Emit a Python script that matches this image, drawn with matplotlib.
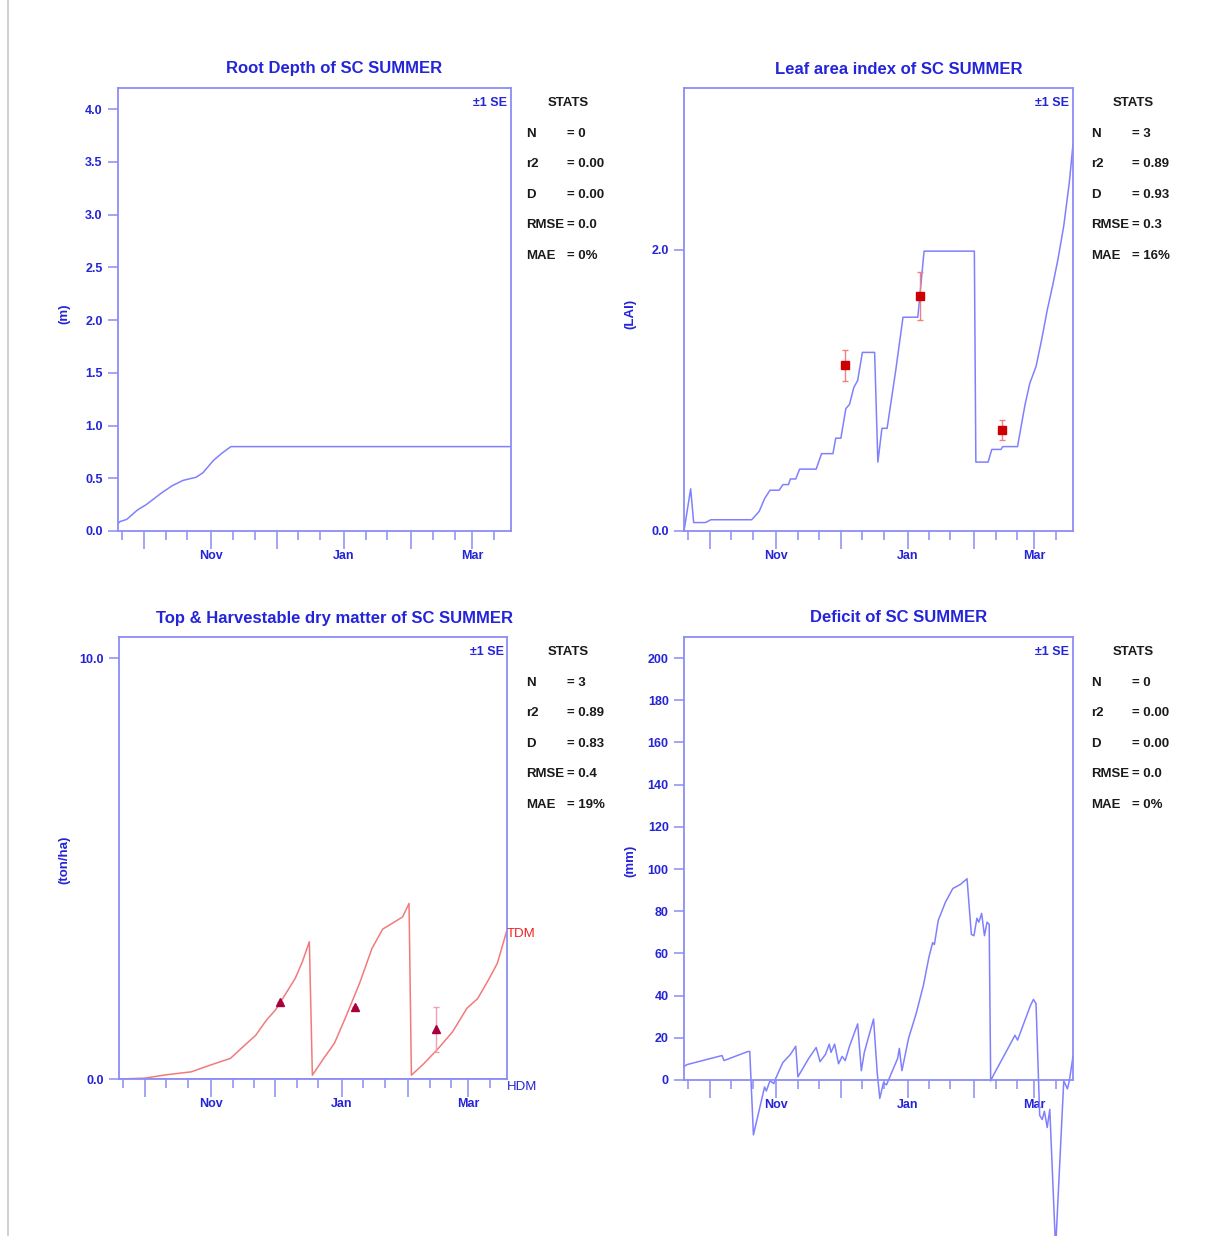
import matplotlib
matplotlib.use("Agg")
import matplotlib.pyplot as plt
from matplotlib.lines import Line2D
import numpy as np

plt.rcParams["font.family"] = ["Liberation Sans", "DejaVu Sans"]
plt.rcParams["font.weight"] = "bold"

W, H = 1218, 1236
START = np.datetime64("2018-09-19")
END_DAY = 181

# season days (days after 19 Sep) and values
root_days = [0, 1, 4, 9, 13, 20, 25, 30, 36, 39, 44, 48, 52, 181]
root_depth = [0.07, 0.09, 0.11, 0.20, 0.25, 0.36, 0.43, 0.48, 0.51, 0.55, 0.67, 0.74, 0.80, 0.80]

lai_days = [0, 3.1, 4.5, 10, 12.5, 31.5, 35, 37.5, 40, 44.3, 46, 48.6, 49.5, 52, 53.8, 61.5,
            64, 69.3, 70.6, 73, 75.3, 77, 79, 80.8, 83, 88.7, 90.2, 92.1, 94.5, 98.5, 101.9,
            108.8, 111.7, 135.1, 135.8, 141.5, 143.2, 147.5, 148.3, 155.2, 156, 158.7, 160.9,
            163.8, 166.4, 169, 171.6, 174.1, 176.7, 179.3, 181]
lai_sim = [0.0, 0.30, 0.06, 0.06, 0.08, 0.08, 0.14, 0.23, 0.29, 0.29, 0.33, 0.33, 0.37, 0.37,
           0.44, 0.44, 0.55, 0.55, 0.66, 0.66, 0.87, 0.90, 1.02, 1.07, 1.27, 1.27, 0.49, 0.73,
           0.73, 1.14, 1.52, 1.52, 1.99, 1.99, 0.49, 0.49, 0.58, 0.58, 0.60, 0.60, 0.67, 0.90,
           1.05, 1.17, 1.36, 1.57, 1.75, 1.94, 2.17, 2.48, 2.75]
lai_obs_days = [74.8, 110, 147.8]
lai_obs = [1.18, 1.67, 0.72]
lai_obs_se = [0.11, 0.17, 0.07]

tdm_days = [0, 12, 22, 33.7, 42, 52, 58.8, 63.8, 68.8, 73, 78.8, 82.2, 85.5, 88.8, 90.2, 95.5,
            100.5, 105.5, 112.2, 118, 123, 127.2, 132.3, 135.3, 136.4, 142.3, 149, 155.6,
            162.3, 167.3, 172.3, 176.5, 181]
tdm_sim = [0.0, 0.02, 0.10, 0.17, 0.32, 0.49, 0.81, 1.04, 1.40, 1.64, 2.11, 2.39, 2.78, 3.26,
           0.09, 0.49, 0.85, 1.44, 2.27, 3.10, 3.56, 3.69, 3.85, 4.17, 0.09, 0.37, 0.73, 1.12,
           1.68, 1.91, 2.35, 2.75, 3.54]
hdm_days = [0, 181]
hdm_sim = [0.0, 0.0]
tdm_obs_days = [75, 109.9, 148.1]
tdm_obs = [1.82, 1.70, 1.18]
tdm_obs_se = [0.0, 0.0, 0.53]

def_days = [0, 1.4, 17.7, 18.6, 29.7, 30.6, 32.3, 37.5, 38.3, 40, 41.8, 42.6, 46, 49.5, 52, 53,
            58, 61.5, 63.3, 65.8, 67.6, 68.4, 70.1, 71.9, 73.6, 75, 77, 80.8, 82.5, 83.9, 88.2,
            89.9, 91.1, 92.8, 94.2, 99.4, 100.2, 101.4, 104.5, 108, 111.4, 114, 115.7, 116.5,
            118.3, 121.7, 125.1, 128.6, 131.7, 133.7, 134.9, 136.3, 137.2, 138.5, 139.8, 141,
            142, 142.7, 144.1, 149.2, 154, 155.2, 161.2, 162.6, 163.8, 165.5, 166.7, 167.7,
            169, 170.2, 172.9, 176.7, 178.4, 179.3, 181]
deficit = [6.4, 7.3, 11.6, 9.2, 13.5, 13.5, -26, -3.3, -5.2, -0.4, -1.7, 0.6, 8.3, 12.1, 16,
           1.5, 10.2, 15.4, 8.7, 12.1, 17, 13.1, 17, 7.7, 11.2, 9.2, 16, 26.6, 4.4, 13.1, 28.9,
           3.5, -8.7, -1.3, -2.3, 10.2, 15, 4.4, 19.8, 31.4, 44.9, 58.4, 65.1, 64.2, 75.7,
           84.4, 90.8, 92.7, 95.4, 69, 68.4, 76.7, 74.8, 79, 68.4, 74.8, 73.8, -0.4, 2.5,
           12.1, 21.2, 18.9, 35.3, 38.2, 36.2, -16.8, -18.7, -14.8, -22.5, -13.9, -80, -0.4,
           -4.2, -0.4, 11.2]

stats_labels = ["N", "r2", "D", "RMSE", "MAE"]
root_stats = ["0", "0.00", "0.00", "0.0", "0%"]
lai_stats = ["3", "0.89", "0.93", "0.3", "16%"]
dm_stats = ["3", "0.89", "0.83", "0.4", "19%"]
def_stats = ["0", "0.00", "0.00", "0.0", "0%"]

BLUE_TXT = "#2424d8"
BLUE_LINE = "#8080ff"
SPINE = "#8c8cf5"


def day(s):
    return int((np.datetime64(s) - START).astype(int))


month_starts = ["2018-10-01", "2018-11-01", "2018-12-01", "2019-01-01", "2019-02-01", "2019-03-01"]
month_names = ["", "Nov", "", "Jan", "", "Mar"]
dekads = ["2018-09-21"]
for m in month_starts:
    y, mo = m[:4], m[5:7]
    dekads += [f"{y}-{mo}-11", f"{y}-{mo}-21"]
dekads = [d for d in dekads if day(d) <= END_DAY]


def fx(px):
    return px / W


def fy(py):
    return 1 - py / H


def make_axes(l, r, t, b, ylim, yticks, yfmt, ylabel):
    ax = fig.add_axes([fx(l), fy(b), fx(r - l), (b - t) / H])
    ax.set_xlim(0, END_DAY)
    ax.set_ylim(*ylim)
    for s in ax.spines.values():
        s.set_color(SPINE)
        s.set_linewidth(1.3)
    ax.set_xticks([day(m) for m in month_starts], labels=month_names)
    ax.set_xticks([day(d) for d in dekads], minor=True)
    ax.tick_params(axis="x", which="major", length=13, width=1.1, color=SPINE,
                   labelcolor=BLUE_TXT, labelsize=9, pad=1)
    ax.tick_params(axis="x", which="minor", length=6.5, width=1.1, color=SPINE)
    ax.set_yticks(yticks, labels=[yfmt.format(v) for v in yticks])
    ax.tick_params(axis="y", length=7, width=1.1, color=SPINE, labelcolor=BLUE_TXT,
                   labelsize=9, pad=4)
    ax.set_ylabel(ylabel, color=BLUE_TXT, fontsize=9.5, fontweight="bold")
    ax.yaxis.set_label_coords(-0.122, 0.49)
    return ax


def decorate(title, cx, ty, se_x, stats, lx, vx, sx, y0):
    fig.text(fx(cx), fy(ty), title, ha="center", va="center", color=BLUE_TXT,
             fontsize=12, fontweight="bold")
    fig.text(fx(se_x), fy(y0), "\u00b11 SE", ha="right", va="center", color=BLUE_TXT,
             fontsize=9, fontweight="bold")
    fig.text(fx(sx), fy(y0), "STATS", ha="center", va="center", color="#1a1a1a",
             fontsize=9.5, fontweight="bold")
    for i, (lab, val) in enumerate(zip(stats_labels, stats)):
        yy = y0 + 30.6 * (i + 1)
        fig.text(fx(lx), fy(yy), lab, ha="left", va="center", color="#1a1a1a",
                 fontsize=9.5, fontweight="bold")
        fig.text(fx(vx), fy(yy), "= " + val, ha="left", va="center", color="#1a1a1a",
                 fontsize=9.5, fontweight="bold")


fig = plt.figure(figsize=(W / 100, H / 100), dpi=100)
fig.add_artist(Line2D([fx(8), fx(8)], [0, 1], color="#c8c8c8", lw=1.2))

# Root depth
ax1 = make_axes(118, 511, 88, 531, (0, 4.2), np.arange(0, 4.01, 0.5), "{:.1f}", "(m)")
ax1.plot(root_days, root_depth, color=BLUE_LINE, lw=1.1)
decorate("Root Depth of SC SUMMER", 334, 69, 507, root_stats, 526, 567, 568, 103)

# Leaf area index
ax2 = make_axes(684, 1073, 88, 531, (0, 3.15), [0.0, 2.0], "{:.1f}", "(LAI)")
ax2.plot(lai_days, lai_sim, color=BLUE_LINE, lw=1.1)
ax2.errorbar(lai_obs_days, lai_obs, yerr=lai_obs_se, fmt="s", color="#cc0000", ms=6,
             ecolor="#f08080", elinewidth=1, capsize=2.5)
decorate("Leaf area index of SC SUMMER", 899, 69, 1069, lai_stats, 1091, 1132, 1133, 103)

# Top & harvestable dry matter
ax3 = make_axes(119, 507, 637, 1079, (0, 10.5), [0.0, 10.0], "{:.1f}", "(ton/ha)")
ax3.plot(tdm_days, tdm_sim, color="#f27a7a", lw=1.1)
ax3.plot(hdm_days, hdm_sim, color=BLUE_LINE, lw=1.1)
ax3.errorbar(tdm_obs_days, tdm_obs, yerr=tdm_obs_se, fmt="^", color="#a8003c", ms=6,
             ecolor="#f0a0b0", elinewidth=1, capsize=2)
ax3.text(END_DAY, tdm_sim[-1] - 0.1, "TDM", color="#ee2020", fontsize=9.5, fontweight="normal",
         ha="left", va="center")
ax3.text(END_DAY, hdm_sim[-1] - 0.2, "HDM", color=BLUE_TXT, fontsize=9.5, fontweight="normal",
         ha="left", va="center")
ax3.yaxis.set_label_coords(-0.125, 0.495)
decorate("Top & Harvestable dry matter of SC SUMMER", 334, 618, 504, dm_stats, 526, 567, 568, 652)

# Deficit
ax4 = make_axes(684, 1073, 637, 1080, (0, 210), np.arange(0, 201, 20), "{:.0f}", "(mm)")
ax4.plot(def_days, deficit, color=BLUE_LINE, lw=1.1, clip_on=False)
ax4.yaxis.set_label_coords(-0.123, 0.495)
decorate("Deficit of SC SUMMER", 899, 618, 1069, def_stats, 1091, 1132, 1133, 652)

fig.savefig("out.png", dpi=100)
